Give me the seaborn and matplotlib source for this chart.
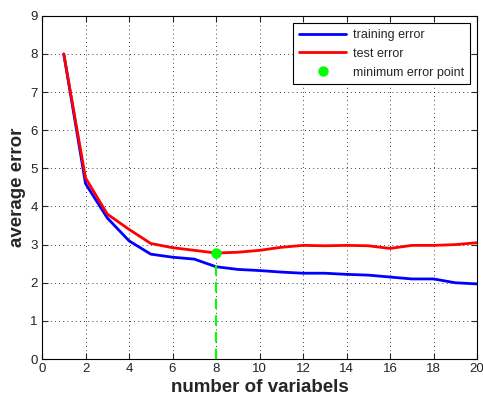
import numpy as np
import pandas as pd
import matplotlib
matplotlib.use("Agg")
import matplotlib.pyplot as plt
import seaborn as sns
from matplotlib.lines import Line2D

n_vars = list(range(1, 21))
training_error = [8.0, 4.6, 3.7, 3.1, 2.75, 2.67, 2.62, 2.42, 2.35, 2.32,
                  2.28, 2.25, 2.25, 2.22, 2.2, 2.15, 2.1, 2.1, 2.0, 1.97]
test_error = [8.0, 4.75, 3.8, 3.4, 3.03, 2.92, 2.85, 2.78, 2.8, 2.85,
              2.93, 2.98, 2.97, 2.98, 2.97, 2.9, 2.98, 2.98, 3.0, 3.05]
min_x = 8
min_y = 2.78
x_ticks = list(range(0, 21, 2))
y_ticks = list(range(0, 10))

sns.set_style("white")
plt.rcParams['font.family'] = ['Liberation Sans', 'DejaVu Sans']

df = pd.DataFrame({"n": n_vars * 2,
                   "err": training_error + test_error,
                   "series": ["training error"] * 20 + ["test error"] * 20})

fig = plt.figure(figsize=(4.83, 3.96), dpi=100)
ax = fig.add_axes([0.087, 0.0934, 0.9006, 0.8666])

sns.lineplot(data=df, x="n", y="err", hue="series",
             palette={"training error": "#0000ff", "test error": "#ff0000"},
             linewidth=2, ax=ax, legend=False)
ax.plot([min_x, min_x], [0, min_y], color="#00ff00", linestyle=(0, (5, 3)), linewidth=1.5)
ax.plot([min_x], [min_y], 'o', color="#00ff00", markersize=6.5)

handles = [Line2D([], [], color="#0000ff", linewidth=2),
           Line2D([], [], color="#ff0000", linewidth=2),
           Line2D([], [], color="#00ff00", marker='o', linestyle='None', markersize=6.5)]
leg = ax.legend(handles, ["training error", "test error", "minimum error point"],
                loc="upper right", fontsize=9, fancybox=False, framealpha=1,
                edgecolor="black", borderaxespad=0.6, handlelength=3.8,
                labelspacing=0.55, handletextpad=0.5, borderpad=0.45)
leg.get_frame().set_linewidth(0.8)

ax.set_xlim(0, 20)
ax.set_ylim(0, 9)
ax.set_xticks(x_ticks)
ax.set_yticks(y_ticks)
ax.grid(True, color="black", linestyle=(0, (1, 4)), linewidth=0.6)
ax.tick_params(direction="in", length=4, top=True, right=True, labelsize=9.5,
               bottom=True, left=True, pad=3, labelcolor="#222222")
for s in ax.spines.values():
    s.set_color("black")
    s.set_linewidth(0.8)
ax.set_xlabel("number of variabels", fontsize=13.5, fontweight="bold", labelpad=2.5)
ax.set_ylabel("average error", fontsize=13.5, fontweight="bold", labelpad=3)

fig.savefig("out.png", dpi=100)
